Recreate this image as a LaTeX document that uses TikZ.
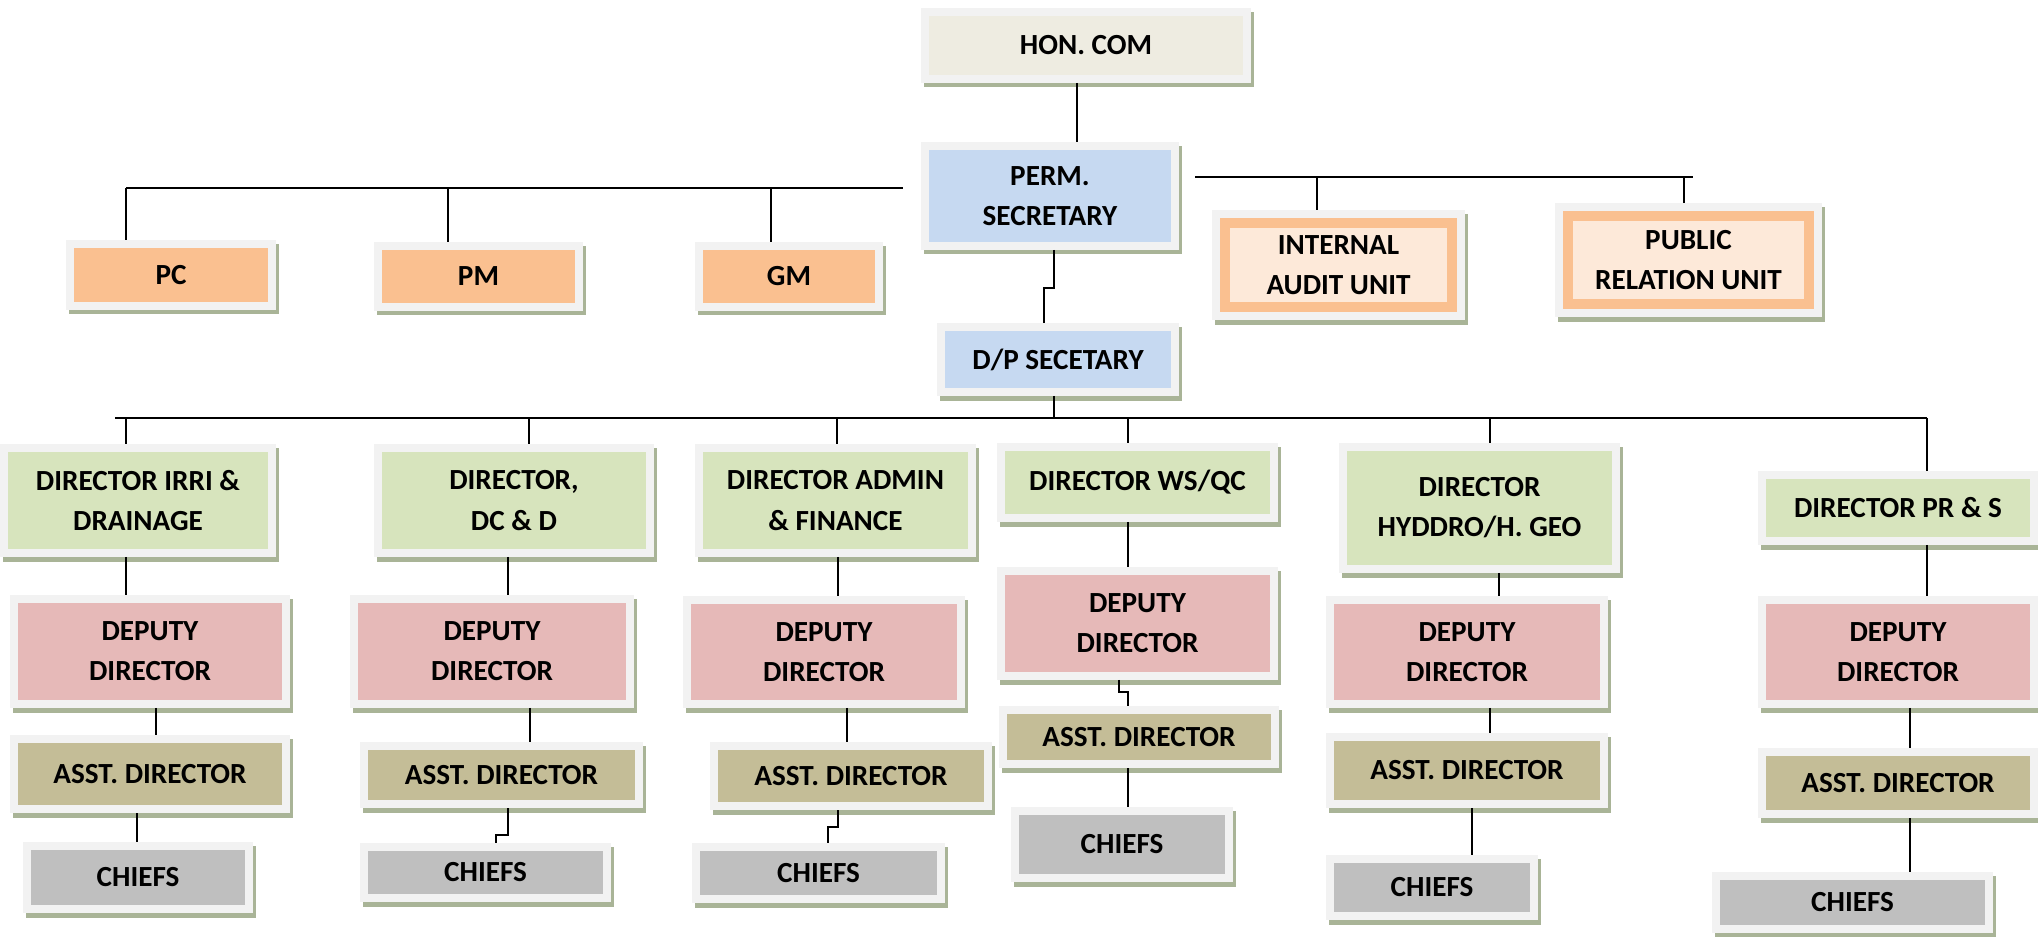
\documentclass[tikz,border=0pt]{standalone}
\usepackage{fontspec}
\setmainfont{Carlito}

\definecolor{framegray}{HTML}{F2F2F2}
\definecolor{shadowolive}{HTML}{A9B497}
\definecolor{honfill}{HTML}{EEECE1}
\definecolor{bluefill}{HTML}{C6D9F1}
\definecolor{orangefill}{HTML}{FAC090}
\definecolor{peachfill}{HTML}{FDE9D9}
\definecolor{greenfill}{HTML}{D7E4BD}
\definecolor{pinkfill}{HTML}{E6B9B8}
\definecolor{khakifill}{HTML}{C4BD97}
\definecolor{grayfill}{HTML}{BFBFBF}

\tikzset{
  box/.style={draw=framegray, line width=0.08cm, inner sep=0pt, align=center,
    font=\fontsize{8.3}{11.4}\selectfont\bfseries,
    preaction={draw=shadowolive, fill=shadowolive, line width=0.08cm,
      transform canvas={xshift=0.03cm, yshift=-0.045cm}}},
  boxsize/.style 2 args={minimum width={(#1-8)*0.01cm}, minimum height={(#2-8)*0.01cm}},
  unitbox/.style={draw=orangefill, fill=peachfill, line width=0.1cm, inner sep=0pt,
    outer sep=0.13cm, align=center, font=\fontsize{8.3}{11.4}\selectfont\bfseries,
    preaction={draw=shadowolive, fill=shadowolive, line width=0.26cm,
      transform canvas={xshift=0.03cm, yshift=-0.045cm}},
    preaction={draw=framegray, line width=0.26cm}},
  link/.style={line width=0.6pt}
}

\begin{document}
\begin{tikzpicture}[x=0.01cm, y=-0.01cm]
\useasboundingbox (0,0) rectangle (2038,937);
% top of the chart:
\node[box, fill=honfill, boxsize={330}{75}] (hon) at (1086,45.5) {HON. COM};
\node[box, fill=bluefill, boxsize={258}{108}] (perm) at (1050,196) {PERM.\\SECRETARY};
\node[box, fill=bluefill, boxsize={242}{73}] (dp) at (1058,359.5) {D/P SECETARY};
\node[box, fill=orangefill, boxsize={210}{70}] (pc) at (171,275) {PC};
\node[box, fill=orangefill, boxsize={209}{69}] (pm) at (478.5,276.5) {PM};
\node[box, fill=orangefill, boxsize={188}{69}] (gm) at (789,276.5) {GM};
\node[unitbox, minimum width=2.27cm, minimum height=0.84cm] (iau) at (1338.5,265) {INTERNAL\\AUDIT UNIT};
\node[unitbox, minimum width=2.41cm, minimum height=0.88cm] (pru) at (1688.5,260) {PUBLIC\\RELATION UNIT};
% directors:
\node[box, fill=greenfill, boxsize={276}{113}] (d1) at (138,500.5) {DIRECTOR IRRI \&\\DRAINAGE};
\node[box, fill=greenfill, boxsize={280}{113}] (d2) at (514,500.5) {DIRECTOR,\\DC \& D};
\node[box, fill=greenfill, boxsize={281}{113}] (d3) at (835.5,500.5) {DIRECTOR ADMIN\\\& FINANCE};
\node[box, fill=greenfill, boxsize={281}{79}] (d4) at (1137.5,482.5) {DIRECTOR WS/QC};
\node[box, fill=greenfill, boxsize={281}{130}] (d5) at (1479.5,508) {DIRECTOR\\HYDDRO/H. GEO};
\node[box, fill=greenfill, boxsize={280}{74}] (d6) at (1898,508) {DIRECTOR PR \& S};
% deputy directors:
\node[box, fill=pinkfill, boxsize={280}{113}] (dd1) at (150,651.5) {DEPUTY\\DIRECTOR};
\node[box, fill=pinkfill, boxsize={284}{113}] (dd2) at (492,651.5) {DEPUTY\\DIRECTOR};
\node[box, fill=pinkfill, boxsize={282}{112}] (dd3) at (824,652) {DEPUTY\\DIRECTOR};
\node[box, fill=pinkfill, boxsize={281}{113}] (dd4) at (1137.5,623.5) {DEPUTY\\DIRECTOR};
\node[box, fill=pinkfill, boxsize={282}{112}] (dd5) at (1467,652) {DEPUTY\\DIRECTOR};
\node[box, fill=pinkfill, boxsize={280}{112}] (dd6) at (1898,652) {DEPUTY\\DIRECTOR};
% asst. directors:
\node[box, fill=khakifill, boxsize={280}{78}] (ad1) at (150,774) {ASST. DIRECTOR};
\node[box, fill=khakifill, boxsize={283}{66}] (ad2) at (501.5,775) {ASST. DIRECTOR};
\node[box, fill=khakifill, boxsize={282}{68}] (ad3) at (851,776) {ASST. DIRECTOR};
\node[box, fill=khakifill, boxsize={280}{62}] (ad4) at (1139,737) {ASST. DIRECTOR};
\node[box, fill=khakifill, boxsize={282}{75}] (ad5) at (1467,770.5) {ASST. DIRECTOR};
\node[box, fill=khakifill, boxsize={280}{70}] (ad6) at (1898,783) {ASST. DIRECTOR};
% chiefs:
\node[box, fill=grayfill, boxsize={230}{71}] (ch1) at (138,877.5) {CHIEFS};
\node[box, fill=grayfill, boxsize={251}{59}] (ch2) at (485.5,872.5) {CHIEFS};
\node[box, fill=grayfill, boxsize={253}{60}] (ch3) at (818.5,873) {CHIEFS};
\node[box, fill=grayfill, boxsize={222}{75}] (ch4) at (1122,844.5) {CHIEFS};
\node[box, fill=grayfill, boxsize={212}{65}] (ch5) at (1432,887.5) {CHIEFS};
\node[box, fill=grayfill, boxsize={281}{61}] (ch6) at (1852.5,902.5) {CHIEFS};

% upper lines:
\draw[link] (hon.south -| 1077,0) -- (perm.north -| 1077,0);
\draw[link] (perm.south -| 1054,0) -- ++(0,38) -- ++(-10,0) -- ++(0,35);
\coordinate (lbusL) at (126,188);
\coordinate (lbusR) at (903,188);
\coordinate (rbusL) at (1195,177);
\coordinate (rbusR) at (1693,177);
\draw[link] (lbusL) -- (lbusR);
\draw[link] (rbusL) -- (rbusR);
\draw[link] (lbusL) -- (lbusL |- pc.north);
\draw[link] (lbusL -| 448,0) -- (pm.north -| 448,0);
\draw[link] (lbusL -| 771,0) -- (gm.north -| 771,0);
\draw[link] (rbusL -| 1317,0) -- (iau.north -| 1317,0);
\draw[link] (rbusR -| 1684,0) -- (pru.north -| 1684,0);
% director bus:
\coordinate (busL) at (115,418);
\coordinate (busR) at (1927,418);
\draw[link] (busL) -- (busR);
\draw[link] (dp.south -| 1054,0) -- (busL -| 1054,0);
\draw[link] (busL -| 126,0) -- (d1.north -| 126,0);
\draw[link] (busL -| 529,0) -- (d2.north -| 529,0);
\draw[link] (busL -| 837,0) -- (d3.north -| 837,0);
\draw[link] (busL -| 1128,0) -- (d4.north -| 1128,0);
\draw[link] (busL -| 1490,0) -- (d5.north -| 1490,0);
\draw[link] (busR) -- (d6.north -| busR);
% lower lines:
\draw[link] (d1.south -| 126,0) -- (dd1.north -| 126,0);
\draw[link] (dd1.south -| 156,0) -- (ad1.north -| 156,0);
\draw[link] (ad1.south -| 137,0) -- (ch1.north -| 137,0);
\draw[link] (d2.south -| 508,0) -- (dd2.north -| 508,0);
\draw[link] (dd2.south -| 530,0) -- (ad2.north -| 530,0);
\draw[link] (ad2.south -| 508,0) -- ++(0,27) -- ++(-12,0) -- ++(0,8);
\draw[link] (d3.south -| 838,0) -- (dd3.north -| 838,0);
\draw[link] (dd3.south -| 847,0) -- (ad3.north -| 847,0);
\draw[link] (ad3.south -| 838,0) -- ++(0,17) -- ++(-10,0) -- ++(0,16);
\draw[link] (d4.south -| 1128,0) -- (dd4.north -| 1128,0);
\draw[link] (dd4.south -| 1119,0) -- ++(0,12) -- ++(9,0) -- ++(0,14);
\draw[link] (ad4.south -| 1128,0) -- (ch4.north -| 1128,0);
\draw[link] (d5.south -| 1499,0) -- (dd5.north -| 1499,0);
\draw[link] (dd5.south -| 1490,0) -- (ad5.north -| 1490,0);
\draw[link] (ad5.south -| 1472,0) -- (ch5.north -| 1472,0);
\draw[link] (d6.south -| 1927,0) -- (dd6.north -| 1927,0);
\draw[link] (dd6.south -| 1910,0) -- (ad6.north -| 1910,0);
\draw[link] (ad6.south -| 1910,0) -- (ch6.north -| 1910,0);
\end{tikzpicture}
\end{document}
